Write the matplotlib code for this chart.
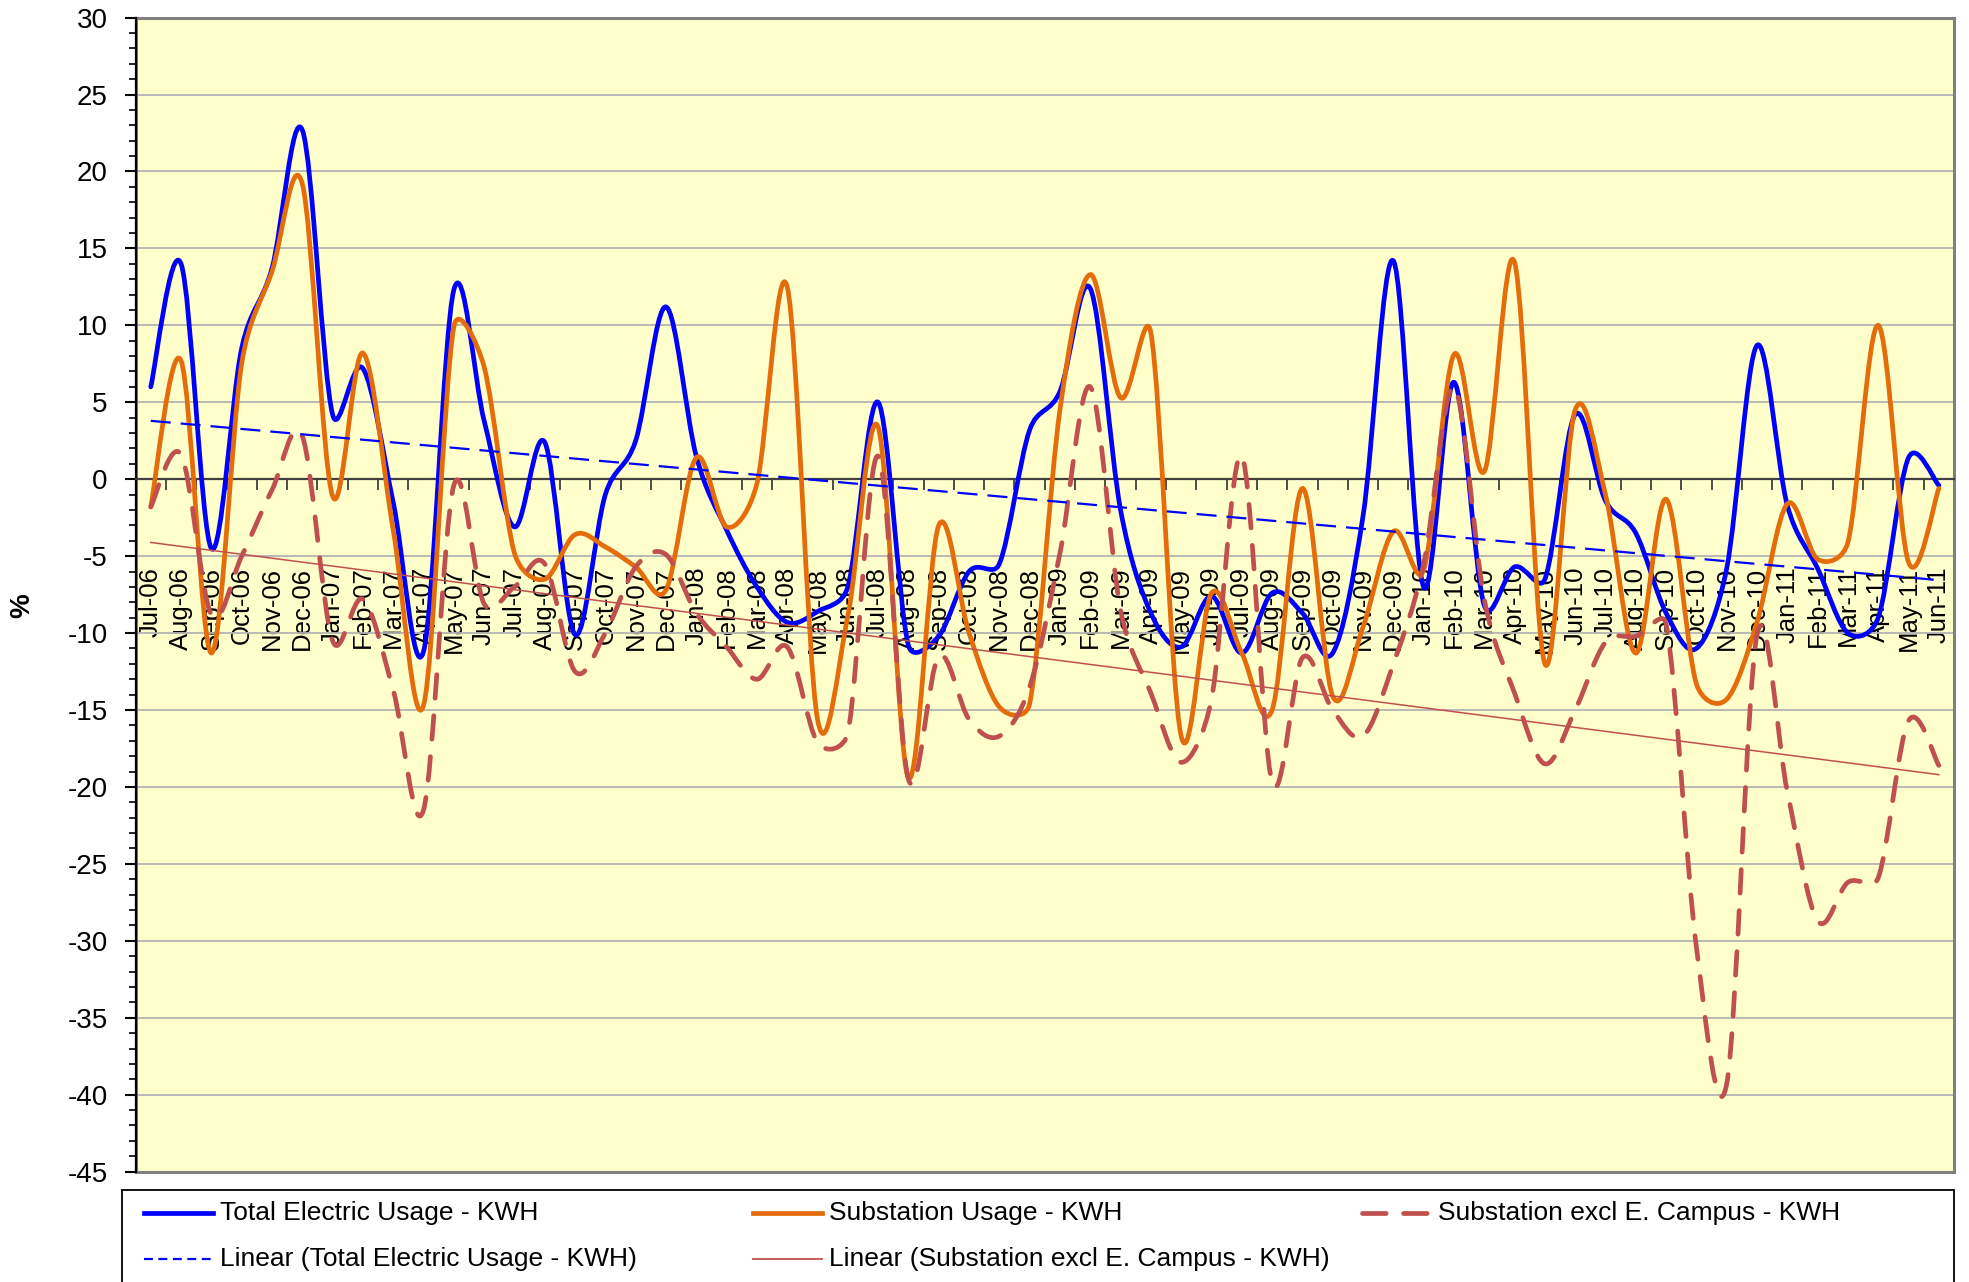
import matplotlib
matplotlib.use("Agg")
import matplotlib.pyplot as plt
import matplotlib.patches as mpatches
from matplotlib.path import Path
from matplotlib.lines import Line2D
import numpy as np

plt.rcParams['font.family'] = ['Liberation Sans', 'DejaVu Sans']
plt.rcParams['axes.unicode_minus'] = False

months = ['Jul-06', 'Aug-06', 'Sep-06', 'Oct-06', 'Nov-06', 'Dec-06',
          'Jan-07', 'Feb-07', 'Mar-07', 'Apr-07', 'May-07', 'Jun-07',
          'Jul-07', 'Aug-07', 'Sep-07', 'Oct-07', 'Nov-07', 'Dec-07',
          'Jan-08', 'Feb-08', 'Mar-08', 'Apr-08', 'May-08', 'Jun-08',
          'Jul-08', 'Aug-08', 'Sep-08', 'Oct-08', 'Nov-08', 'Dec-08',
          'Jan-09', 'Feb-09', 'Mar-09', 'Apr-09', 'May-09', 'Jun-09',
          'Jul-09', 'Aug-09', 'Sep-09', 'Oct-09', 'Nov-09', 'Dec-09',
          'Jan-10', 'Feb-10', 'Mar-10', 'Apr-10', 'May-10', 'Jun-10',
          'Jul-10', 'Aug-10', 'Sep-10', 'Oct-10', 'Nov-10', 'Dec-10',
          'Jan-11', 'Feb-11', 'Mar-11', 'Apr-11', 'May-11', 'Jun-11']

total_kwh = [6.0, 14.0, -4.5, 8.5, 13.7, 22.7,
             4.2, 7.2, -1.5, -11.2, 12.3, 3.8,
             -3.1, 2.4, -10.1, -1.0, 2.5, 11.2,
             1.5, -3.3, -7.0, -9.3, -8.6, -7.0,
             5.0, -10.8, -10.2, -6.0, -5.5, 3.2,
             5.7, 12.4, -2.0, -8.7, -10.9, -7.6,
             -11.3, -7.4, -8.7, -11.3, -2.4, 14.2,
             -7.0, 6.3, -8.2, -5.7, -6.5, 4.2,
             -1.4, -3.5, -8.7, -11.0, -5.8, 8.7,
             -1.7, -5.8, -10.0, -9.0, 1.4, -0.4]

substation_kwh = [-1.8, 7.7, -11.3, 7.5, 13.5, 19.2,
                  -1.1, 8.2, -3.3, -14.7, 9.9, 7.3,
                  -4.8, -6.5, -3.6, -4.4, -5.7, -7.2,
                  1.4, -3.1, -0.3, 12.5, -15.6, -8.9,
                  3.4, -19.4, -3.0, -10.0, -14.8, -14.6,
                  4.5, 13.3, 5.3, 9.5, -16.7, -7.4,
                  -11.3, -15.0, -0.6, -14.1, -9.6, -3.4,
                  -5.9, 8.1, 0.5, 14.1, -12.0, 4.5,
                  -1.0, -11.3, -1.3, -13.3, -14.3, -9.3,
                  -1.6, -5.2, -4.1, 10.0, -5.4, -0.6]

excl_campus_kwh = [-1.8, 1.6, -8.8, -5.0, -0.7, 2.8,
                   -10.5, -7.8, -13.7, -21.5, -0.4, -8.1,
                   -7.0, -5.5, -12.5, -10.0, -5.7, -4.9,
                   -8.7, -10.9, -13.0, -10.9, -17.1, -16.5,
                   1.5, -19.5, -11.5, -15.6, -16.7, -13.5,
                   -4.8, 6.0, -8.5, -13.9, -18.4, -14.3,
                   1.5, -19.7, -11.6, -15.0, -16.7, -12.0,
                   -5.5, 6.0, -7.8, -13.9, -18.5, -15.0,
                   -10.6, -10.2, -9.4, -30.4, -39.3, -10.1,
                   -20.3, -28.7, -26.2, -25.9, -15.7, -18.6]

BLUE = '#0000FF'
ORANGE = '#E46C0A'
RED = '#C0504D'

# pixels per data unit, used to mimic Excel's screen-space smoothing
SX, SY = 30.3, 15.38


def smooth_path(x, y):
    # bezier through every point, control arms capped at half the segment (Excel style)
    pts = np.column_stack([np.asarray(x, float) * SX, np.asarray(y, float) * SY])
    n = len(pts)
    verts = [tuple(pts[0])]
    codes = [Path.MOVETO]
    for i in range(n - 1):
        p0 = pts[i - 1] if i > 0 else pts[i]
        p1, p2 = pts[i], pts[i + 1]
        p3 = pts[i + 2] if i < n - 2 else pts[i + 1]
        d12 = np.hypot(*(p2 - p1))
        d02 = np.hypot(*(p2 - p0))
        d13 = np.hypot(*(p3 - p1))
        f1 = 1 / 6
        f2 = 1 / 6
        if d02 / 6 > d12 / 2 and d02 > 0:
            f1 = d12 / 2 / d02
        if d13 / 6 > d12 / 2 and d13 > 0:
            f2 = d12 / 2 / d13
        c1 = p1 + (p2 - p0) * f1
        c2 = p2 - (p3 - p1) * f2
        verts += [tuple(c1), tuple(c2), tuple(p2)]
        codes += [Path.CURVE4] * 3
    verts = np.array(verts) / [SX, SY]
    return Path(verts, codes)


W, H = 1969, 1282
fig = plt.figure(figsize=(W / 100, H / 100), dpi=100)
left, right, top, bottom = 135.6, 1954, 17.6, 1171.6
ax = fig.add_axes([left / W, 1 - bottom / H, (right - left) / W, (bottom - top) / H])
ax.set_facecolor('#FFFFCC')

x = np.arange(len(months))
ax.set_xlim(-0.5, len(months) - 0.5)
ax.set_ylim(-45, 30)

series = [
    (total_kwh, dict(edgecolor=BLUE, linewidth=3.4, linestyle='-')),
    (substation_kwh, dict(edgecolor=ORANGE, linewidth=3.4, linestyle='-')),
    (excl_campus_kwh, dict(edgecolor=RED, linewidth=3.4, linestyle=(0, (5.0, 3.7)))),
]
for i, (vals, style) in enumerate(series):
    p = mpatches.PathPatch(smooth_path(x, vals), fill=False,
                           capstyle='round', joinstyle='round', zorder=3 + i, **style)
    ax.add_patch(p)

fit_total = np.polyval(np.polyfit(x, total_kwh, 1), x)
fit_excl = np.polyval(np.polyfit(x, excl_campus_kwh, 1), x)
ax.plot(x, fit_total, color=BLUE, lw=1.6, ls=(0, (9, 4.5)), zorder=7)
ax.plot(x, fit_excl, color=RED, lw=1.1, zorder=7)

# axes styling
ax.yaxis.set_major_locator(plt.MultipleLocator(5))
ax.yaxis.set_minor_locator(plt.MultipleLocator(1))
ax.yaxis.grid(True, which='major', color='#B4B4B4', lw=1.3)
ax.set_axisbelow(True)
ax.tick_params(axis='y', which='major', length=8, width=1.5, pad=12, labelsize=20)
ax.tick_params(axis='y', which='minor', length=5, width=1.2)

ax.spines['top'].set_visible(False)
ax.spines['right'].set_visible(False)
ax.spines['left'].set_linewidth(1.6)
ax.spines['bottom'].set_position(('data', 0))
ax.spines['bottom'].set_color('#404040')
ax.spines['bottom'].set_linewidth(1.6)
ax.spines['bottom'].set_zorder(2.5)

ax.set_xticks(x)
ax.set_xticklabels(months, rotation=90, fontsize=18.5, va='top', ha='center')
ax.set_xticks(np.arange(-0.5, len(months), 1), minor=True)
ax.tick_params(axis='x', which='major', length=0, pad=63)
ax.tick_params(axis='x', which='minor', length=8, width=1.3, color='#404040', direction='out')

border = mpatches.Rectangle((0, 0), 1, 1, transform=ax.transAxes, fill=False,
                            edgecolor='#808080', lw=2.2, clip_on=False, zorder=1)
ax.add_patch(border)

fig.text(22 / W, 1 - 606 / H, '%', rotation=90, fontsize=20, fontweight='bold',
         ha='center', va='center')

# legend box drawn below the plot
fig.patches.append(mpatches.Rectangle((122 / W, -0.02), (1954 - 122) / W, 0.02 + 1 - 1190 / H,
                                      transform=fig.transFigure, fill=False,
                                      edgecolor='black', lw=1.3))
entries = [
    ('Total Electric Usage - KWH', dict(color=BLUE, lw=3.4), 144, 1213),
    ('Substation Usage - KWH', dict(color=ORANGE, lw=3.4), 753, 1213),
    ('Substation excl E. Campus - KWH', dict(color=RED, lw=3.4, ls=(0, (5.0, 3.7)),
                                            solid_capstyle='round', dash_capstyle='round'), 1362, 1213),
    ('Linear (Total Electric Usage - KWH)', dict(color=BLUE, lw=1.6, ls=(0, (4, 2.5))), 144, 1259),
    ('Linear (Substation excl E. Campus - KWH)', dict(color=RED, lw=1.3), 753, 1259),
]
for label, style, px, py in entries:
    yy = 1 - py / H
    fig.lines.append(Line2D([px / W, (px + 69) / W], [yy, yy], transform=fig.transFigure, **style))
    fig.text((px + 76) / W, yy, label, fontsize=19, ha='left', va='center')

fig.savefig('out.png', dpi=100)
